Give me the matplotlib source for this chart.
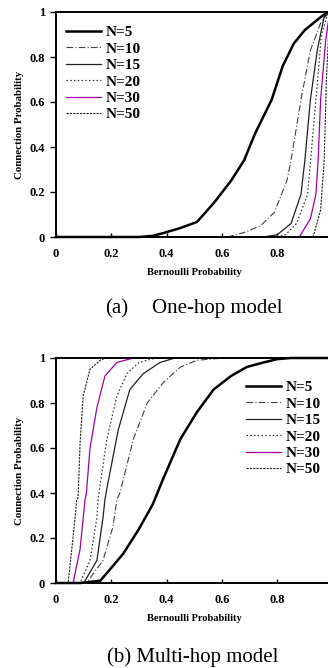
import numpy as np
import matplotlib.pyplot as plt

# one-hop model
one_x5 = [0, 0.30, 0.35, 0.39, 0.45, 0.51, 0.57, 0.633, 0.68, 0.72, 0.78, 0.82, 0.86, 0.90, 0.96, 0.985, 1]
one_y5 = [0, 0, 0.005, 0.018, 0.04, 0.067, 0.15, 0.25, 0.34, 0.46, 0.61, 0.76, 0.86, 0.92, 0.98, 1.0, 1]
one_x10 = [0, 0.62, 0.68, 0.74, 0.79, 0.835, 0.85, 0.886, 0.92, 0.96, 0.99, 1]
one_y10 = [0, 0, 0.02, 0.05, 0.11, 0.25, 0.34, 0.61, 0.83, 0.96, 1.0, 1]
one_x15 = [0, 0.75, 0.80, 0.85, 0.886, 0.90, 0.92, 0.945, 0.97, 0.99, 1]
one_y15 = [0, 0, 0.01, 0.06, 0.19, 0.34, 0.61, 0.83, 0.98, 1.0, 1]
one_x20 = [0, 0.79, 0.83, 0.87, 0.91, 0.925, 0.945, 0.96, 0.985, 1]
one_y20 = [0, 0, 0.01, 0.06, 0.19, 0.40, 0.68, 0.90, 1.0, 1]
one_x30 = [0, 0.88, 0.92, 0.94, 0.948, 0.957, 0.975, 0.99, 1]
one_y30 = [0, 0, 0.08, 0.19, 0.34, 0.61, 0.87, 1.0, 1]
one_x50 = [0, 0.93, 0.957, 0.97, 0.978, 0.99, 1]
one_y50 = [0, 0, 0.12, 0.34, 0.70, 1.0, 1]

# multi-hop model
multi_x5 = [0, 0.087, 0.16, 0.195, 0.243, 0.30, 0.35, 0.39, 0.45, 0.51, 0.57, 0.633, 0.69, 0.75, 0.80, 0.85, 1]
multi_y5 = [0, 0, 0.01, 0.06, 0.13, 0.24, 0.35, 0.47, 0.64, 0.76, 0.86, 0.92, 0.96, 0.98, 0.995, 1.0, 1]
multi_x10 = [0, 0.11, 0.17, 0.206, 0.22, 0.231, 0.28, 0.33, 0.387, 0.45, 0.51, 0.61, 1]
multi_y10 = [0, 0, 0.10, 0.25, 0.37, 0.40, 0.64, 0.80, 0.89, 0.96, 0.99, 1.0, 1]
multi_x15 = [0, 0.10, 0.148, 0.17, 0.177, 0.184, 0.225, 0.267, 0.315, 0.376, 0.43, 1]
multi_y15 = [0, 0, 0.10, 0.29, 0.37, 0.42, 0.68, 0.86, 0.93, 0.98, 1.0, 1]
multi_x20 = [0, 0.087, 0.123, 0.148, 0.152, 0.16, 0.184, 0.22, 0.256, 0.30, 0.36, 1]
multi_y20 = [0, 0, 0.10, 0.29, 0.37, 0.44, 0.64, 0.83, 0.93, 0.98, 1.0, 1]
multi_x30 = [0, 0.062, 0.087, 0.105, 0.11, 0.123, 0.148, 0.177, 0.22, 0.28, 1]
multi_y30 = [0, 0, 0.15, 0.37, 0.40, 0.60, 0.78, 0.92, 0.98, 1.0, 1]
multi_x50 = [0, 0.044, 0.057, 0.069, 0.075, 0.08, 0.087, 0.098, 0.123, 0.16, 0.18, 1]
multi_y50 = [0, 0, 0.15, 0.29, 0.37, 0.38, 0.62, 0.83, 0.95, 0.99, 1.0, 1]

labels = ['N=5', 'N=10', 'N=15', 'N=20', 'N=30', 'N=50']
xticks = [0, 0.2, 0.4, 0.6, 0.8]
xtick_labels = ['0', '0.2', '0.4', '0.6', '0.8']
yticks = [0, 0.2, 0.4, 0.6, 0.8, 1]
ytick_labels = ['0', '0.2', '0.4', '0.6', '0.8', '1']

styles = [
    dict(color='black', lw=1.8, ls='-'),
    dict(color='#404040', lw=0.8, ls=(0, (6, 2, 1, 2))),
    dict(color='#202020', lw=0.9, ls='-'),
    dict(color='#303030', lw=0.9, ls=(0, (1.2, 1.8))),
    dict(color='#A000A0', lw=0.9, ls='-'),
    dict(color='#202020', lw=0.8, ls=(0, (2, 1))),
]

SERIF = 'Liberation Serif'


def draw_panel(ax, xs, ys, leg_anchor):
    for x, y, lab, st in zip(xs, ys, labels, styles):
        ax.plot(x, y, label=lab, clip_on=False, **st)
    ax.set_xlim(0, 1)
    ax.set_ylim(0, 1)
    ax.set_xticks(xticks)
    ax.set_xticklabels(xtick_labels)
    ax.set_yticks(yticks)
    ax.set_yticklabels(ytick_labels)
    ax.tick_params(axis='x', direction='in', length=3, width=1, pad=8)
    ax.tick_params(axis='y', direction='out', length=4, width=1, pad=4)
    for lab in ax.get_xticklabels() + ax.get_yticklabels():
        lab.set_fontfamily(SERIF)
        lab.set_fontweight('bold')
        lab.set_fontsize(9)
    for sp in ax.spines.values():
        sp.set_linewidth(1.4)
    ax.set_xlabel('Bernoulli Probability', fontfamily=SERIF, fontweight='bold',
                  fontsize=7.6, labelpad=6)
    ax.set_ylabel('Connection Probability', fontfamily=SERIF, fontweight='bold',
                  fontsize=7.8, labelpad=4)
    ax.legend(loc='upper left', bbox_to_anchor=leg_anchor, frameon=False,
              prop=dict(family=SERIF, weight='bold', size=11),
              handlelength=2.3, handletextpad=0.3, labelspacing=0.18,
              borderpad=0, borderaxespad=0)


fig = plt.figure(figsize=(3.28, 6.68), dpi=100)
ax1 = fig.add_axes([56 / 328, 1 - 237 / 668, 276.5 / 328, 225 / 668])
ax2 = fig.add_axes([56 / 328, 1 - 583 / 668, 276.5 / 328, 225 / 668])

draw_panel(ax1,
           [one_x5, one_x10, one_x15, one_x20, one_x30, one_x50],
           [one_y5, one_y10, one_y15, one_y20, one_y30, one_y50],
           (0.035, 0.94))
draw_panel(ax2,
           [multi_x5, multi_x10, multi_x15, multi_x20, multi_x30, multi_x50],
           [multi_y5, multi_y10, multi_y15, multi_y20, multi_y30, multi_y50],
           (0.687, 0.90))

fig.text(105 / 328, 1 - 309 / 668, '(a)', fontfamily=SERIF,
         fontsize=15, va='center', ha='left')
fig.text(152 / 328, 1 - 309 / 668, 'One-hop model', fontfamily=SERIF,
         fontsize=15, va='center', ha='left')
fig.text(107 / 328, 1 - 657 / 668, '(b) Multi-hop model', fontfamily=SERIF,
         fontsize=15, va='center', ha='left')

fig.savefig('out.png', dpi=100)
